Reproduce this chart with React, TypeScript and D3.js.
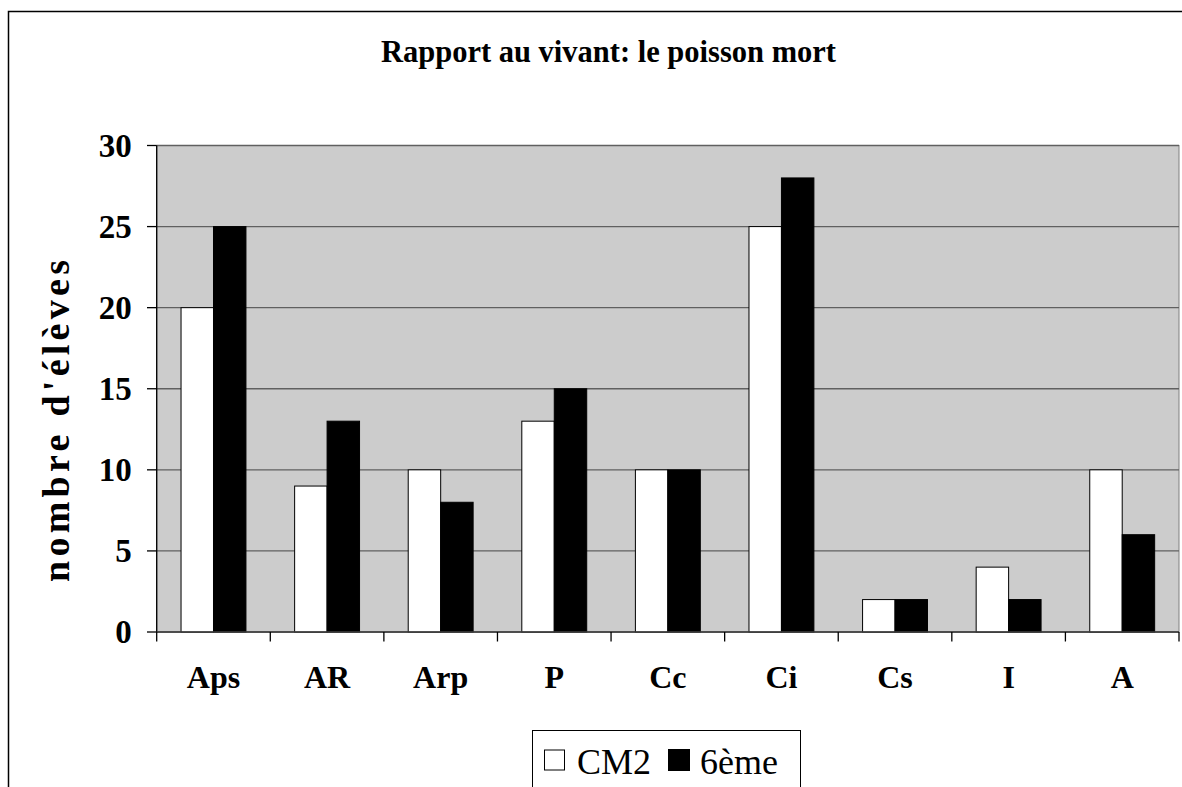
import React from "react";
import * as d3 from "d3";

const categories = ["Aps", "AR", "Arp", "P", "Cc", "Ci", "Cs", "I", "A"];
const seriesNames = ["CM2", "6ème"];
const cm2Values = [20, 9, 10, 13, 10, 25, 2, 4, 10];
const sixiemeValues = [25, 13, 8, 15, 10, 28, 2, 2, 6];
const yTicks = [0, 5, 10, 15, 20, 25, 30];
const seriesFills = ["#ffffff", "#000000"];

const W = 1182;
const H = 787;
const FONT = "'Liberation Serif', 'Times New Roman', serif";

export default function App() {
  const left = 156.7;
  const right = 1179;
  const top = 145.5;
  const bottom = 632;

  const x = d3.scaleBand<string>().domain(categories).range([left, right]).padding(0);
  const inner = d3
    .scaleBand<string>()
    .domain(seriesNames)
    .range([0, x.bandwidth()])
    .paddingInner(0)
    .paddingOuter(0.75);
  const y = d3.scaleLinear().domain([0, 30]).range([bottom, top]);

  const series = [cm2Values, sixiemeValues];
  const boundaries = categories.map((c) => x(c) as number).concat([right]);

  return (
    <svg
      width={W}
      height={H}
      style={{ position: "absolute", left: 0, top: 0, display: "block", background: "#fff" }}
    >
      {/* outer chart border */}
      <rect x={8.5} y={11.5} width={1200} height={900} fill="#fff" stroke="#000" strokeWidth={1.5} />

      {/* title */}
      <text
        x={608.5}
        y={61.7}
        textAnchor="middle"
        fontFamily={FONT}
        fontWeight="bold"
        fontSize={30.5}
        fill="#000"
      >
        Rapport au vivant: le poisson mort
      </text>

      {/* plot background */}
      <rect x={left} y={top} width={right - left} height={bottom - top} fill="#cccccc" stroke="#808080" strokeWidth={1} />

      {/* gridlines */}
      {yTicks.map((t) => (
        <line key={"g" + t} x1={left} x2={right} y1={y(t)} y2={y(t)} stroke="#606060" strokeWidth={1.3} />
      ))}

      {/* bars */}
      {series.map((vals, si) =>
        categories.map((c, ci) => {
          const bx = (x(c) as number) + (inner(seriesNames[si]) as number);
          const by = y(vals[ci]);
          return (
            <rect
              key={si + "-" + c}
              x={bx}
              y={by}
              width={inner.bandwidth()}
              height={bottom - by}
              fill={seriesFills[si]}
              stroke="#000"
              strokeWidth={1}
            />
          );
        })
      )}

      {/* y axis */}
      <line x1={left} x2={left} y1={top} y2={bottom} stroke="#000" strokeWidth={1.3} />
      {yTicks.map((t) => (
        <g key={"yt" + t}>
          <line x1={147} x2={left} y1={y(t)} y2={y(t)} stroke="#000" strokeWidth={1.3} />
          <text
            x={131.7}
            y={y(t)}
            dy="0.34em"
            textAnchor="end"
            fontFamily={FONT}
            fontWeight="bold"
            fontSize={33}
            fill="#000"
          >
            {t}
          </text>
        </g>
      ))}

      {/* x axis */}
      <line x1={left} x2={right} y1={bottom} y2={bottom} stroke="#404040" strokeWidth={1.3} />
      {boundaries.map((bx, i) => (
        <line key={"xt" + i} x1={bx} x2={bx} y1={bottom} y2={641.5} stroke="#000" strokeWidth={1.3} />
      ))}
      {categories.map((c) => (
        <text
          key={"xl" + c}
          x={(x(c) as number) + x.bandwidth() / 2}
          y={688}
          textAnchor="middle"
          fontFamily={FONT}
          fontWeight="bold"
          fontSize={32}
          fill="#000"
        >
          {c}
        </text>
      ))}

      {/* y axis title */}
      <text
        transform={`translate(69,421) rotate(-90)`}
        textAnchor="middle"
        fontFamily={FONT}
        fontWeight="bold"
        fontSize={38}
        textLength={322}
        lengthAdjust="spacing"
        fill="#000"
      >
        nombre d'élèves
      </text>

      {/* legend */}
      <rect x={532.5} y={730.5} width={268} height={120} fill="#fff" stroke="#000" strokeWidth={1} />
      <rect x={544.5} y={750} width={20} height={20} fill={seriesFills[0]} stroke="#000" strokeWidth={1} />
      <text x={577} y={774} fontFamily={FONT} fontSize={36} fill="#000">
        {seriesNames[0]}
      </text>
      <rect x={668.5} y={749.5} width={21} height={21} fill={seriesFills[1]} stroke="#000" strokeWidth={1} />
      <text x={700} y={774} fontFamily={FONT} fontSize={36} fill="#000">
        {seriesNames[1]}
      </text>
    </svg>
  );
}
